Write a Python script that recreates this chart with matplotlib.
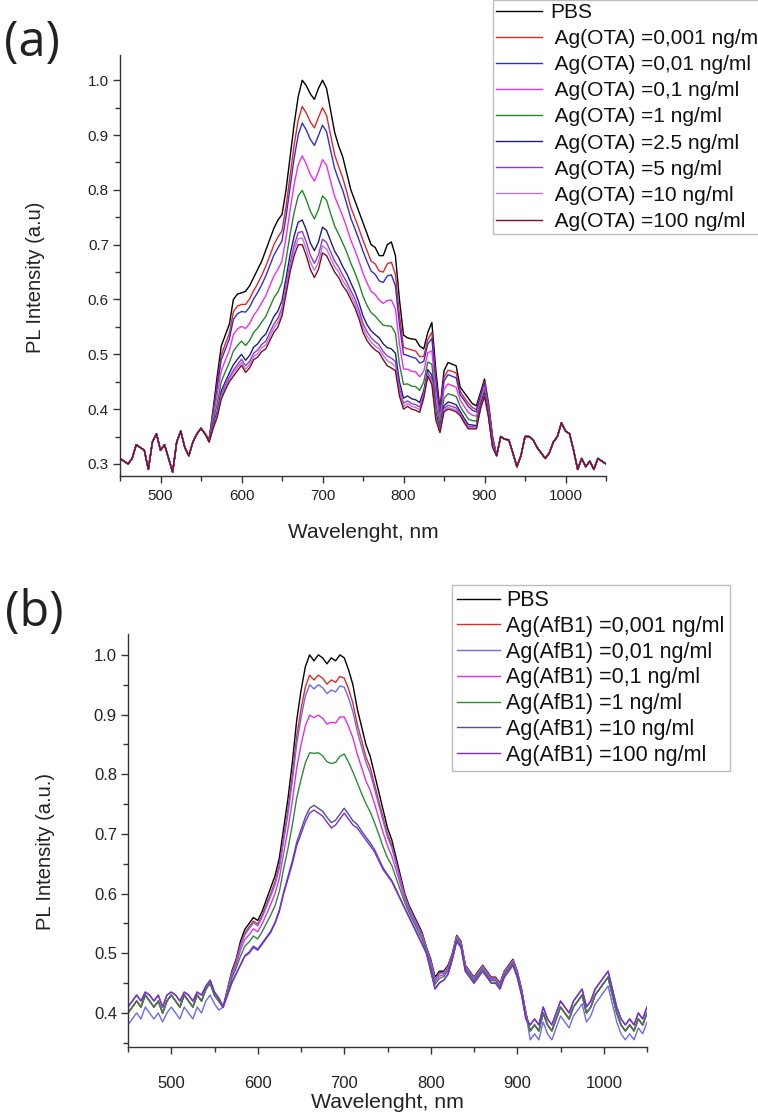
import numpy as np
import matplotlib
matplotlib.use("Agg")
import matplotlib.pyplot as plt
from matplotlib.ticker import MultipleLocator, FormatStrFormatter

plt.rcParams['font.family'] = ['Liberation Sans', 'DejaVu Sans']

# ---------------- data ----------------
# wavelength grid (nm), 5 nm sampling
wavelength_nm = np.arange(450, 1051, 5)

# ----- panel (a): OTA -----
ota_left_tail = [.310, .305, .300, .310, .335, .330, .325, .290, .340, .355, .325,
                 .335, .310, .285, .340, .360, .330, .315, .340, .355, .365, .355]
ota_right_tail = [.315, .350, .345, .344, .320, .295, .315, .350, .350, .344, .330, .320,
                  .310, .320, .340, .350, .375, .360, .355, .325, .290, .310, .295, .305,
                  .290, .310, .305, .300]

ota_pbs_mid = [.345, .400, .460, .515, .535, .555, .600, .610, .612, .615,
               .625, .640, .655, .670, .690, .710, .730, .745, .755, .800,
               .860, .920, .970, 1.000, .990, .975, .965, .985, 1.000, .985,
               .945, .905, .880, .860, .830, .800, .780, .760, .740, .720,
               .700, .695, .680, .680, .700, .705, .680, .600, .535, .530,
               .528, .527, .515, .510, .540, .558, .470, .400, .470, .485,
               .482, .479, .440, .430, .420, .410, .406, .430, .455, .410,
               .350]
ota_0001_mid = [.344, .394, .448, .499, .519, .538, .578, .588, .591, .591,
                .601, .616, .629, .644, .661, .680, .700, .714, .725, .770,
                .826, .882, .927, .952, .940, .924, .913, .932, .950, .936,
                .900, .864, .842, .822, .796, .768, .749, .729, .708, .689,
                .670, .665, .652, .650, .665, .668, .646, .572, .513, .510,
                .508, .506, .496, .496, .527, .540, .456, .393, .458, .471,
                .469, .466, .432, .421, .411, .403, .399, .425, .450, .406,
                .347]
ota_001_mid = [.344, .391, .441, .490, .509, .528, .564, .574, .578, .577,
               .586, .601, .613, .627, .643, .662, .681, .694, .707, .751,
               .805, .858, .900, .922, .909, .892, .881, .899, .918, .906,
               .872, .839, .818, .799, .774, .748, .729, .709, .688, .669,
               .652, .646, .634, .631, .643, .645, .625, .554, .500, .498,
               .495, .493, .484, .487, .519, .529, .447, .389, .451, .463,
               .460, .457, .426, .416, .405, .398, .395, .422, .447, .404,
               .345]
ota_01_mid = [.343, .384, .426, .470, .489, .507, .536, .546, .551, .547,
              .556, .571, .581, .594, .607, .625, .643, .655, .670, .713,
              .763, .810, .846, .862, .847, .828, .816, .833, .855, .845,
              .816, .788, .770, .752, .731, .708, .690, .670, .648, .630,
              .615, .609, .599, .593, .598, .599, .583, .519, .473, .473,
              .469, .468, .459, .469, .503, .506, .429, .380, .436, .446,
              .443, .440, .416, .405, .394, .389, .387, .416, .441, .399,
              .341]
ota_1_mid = [.342, .377, .410, .450, .468, .485, .506, .516, .524, .516,
             .525, .540, .548, .559, .569, .586, .603, .614, .631, .673,
             .719, .759, .789, .799, .782, .761, .747, .764, .789, .781,
             .757, .734, .719, .703, .686, .666, .649, .629, .606, .589,
             .576, .570, .561, .553, .552, .551, .539, .482, .445, .446,
             .442, .441, .434, .450, .486, .482, .410, .371, .420, .428,
             .426, .423, .405, .393, .382, .379, .378, .410, .434, .393,
             .337]
ota_25_mid = [.341, .370, .396, .433, .450, .466, .481, .491, .500, .489,
              .498, .513, .519, .530, .537, .553, .569, .579, .598, .639,
              .682, .716, .741, .745, .727, .703, .689, .705, .732, .726,
              .707, .688, .676, .660, .647, .630, .614, .594, .570, .554,
              .543, .536, .530, .519, .512, .510, .502, .450, .420, .424,
              .419, .417, .412, .434, .472, .462, .394, .363, .406, .413,
              .411, .408, .396, .383, .372, .371, .370, .405, .429, .389,
              .333]
ota_5_mid = [.340, .368, .391, .426, .443, .458, .471, .481, .491, .479,
             .487, .502, .508, .518, .524, .540, .555, .566, .585, .625,
             .667, .699, .722, .724, .705, .681, .666, .681, .710, .704,
             .687, .670, .659, .644, .632, .616, .601, .581, .556, .541,
             .530, .523, .517, .505, .497, .493, .487, .438, .411, .415,
             .410, .408, .404, .427, .466, .454, .387, .360, .401, .407,
             .405, .402, .392, .379, .368, .368, .367, .402, .426, .387,
             .332]
ota_10_mid = [.340, .366, .388, .422, .439, .454, .466, .476, .485, .473,
              .481, .496, .501, .512, .517, .532, .548, .558, .577, .618,
              .658, .690, .711, .712, .692, .668, .653, .668, .698, .692,
              .676, .660, .650, .634, .624, .608, .593, .573, .548, .533,
              .522, .515, .510, .498, .488, .484, .478, .431, .405, .410,
              .405, .403, .399, .424, .463, .450, .384, .359, .398, .403,
              .401, .398, .390, .377, .366, .366, .366, .401, .425, .386,
              .331]
ota_100_mid = [.340, .365, .385, .418, .435, .450, .460, .470, .480, .467,
               .475, .490, .495, .505, .510, .525, .540, .550, .570, .610,
               .650, .680, .700, .700, .680, .655, .640, .655, .685, .680,
               .665, .650, .640, .625, .615, .600, .585, .565, .540, .525,
               .515, .508, .503, .490, .479, .475, .470, .424, .400, .405,
               .400, .398, .394, .420, .460, .445, .380, .357, .395, .400,
               .398, .395, .388, .375, .364, .364, .364, .400, .424, .385,
               .330]

ota_labels = ['PBS', ' Ag(OTA) =0,001 ng/ml', ' Ag(OTA) =0,01 ng/ml',
              ' Ag(OTA) =0,1 ng/ml', ' Ag(OTA) =1 ng/ml', ' Ag(OTA) =2.5 ng/ml',
              ' Ag(OTA) =5 ng/ml', ' Ag(OTA) =10 ng/ml', ' Ag(OTA) =100 ng/ml']
ota_colors = ['#000000', '#e3262c', '#2f2fd2', '#f22cf2', '#22882a', '#1c1c86',
              '#9235e0', '#b57ad0', '#7c0c22']

# ----- panel (b): AfB1 -----
afb_left_tail = [.40, .41, .42, .41, .43, .42, .41, .42, .40, .42, .43,
                 .42, .41, .43, .42, .41, .43, .42, .44, .45, .43, .42]
afb_left_tail_low = [.38, .39, .40, .39, .41, .40, .39, .40, .385, .40, .41,
                     .40, .39, .41, .40, .39, .41, .40, .42, .43, .415, .405]
afb_left_tail_high = [.41, .42, .43, .42, .435, .43, .42, .43, .41, .43, .435,
                      .43, .42, .435, .43, .42, .435, .43, .445, .455, .435, .425]
afb_right_tail = [.37, .38, .37, .40, .38, .37, .39, .41, .40, .39, .41, .42, .43, .40,
                  .41, .43, .44, .45, .46, .43, .40, .38, .37, .38, .37, .39, .38, .40]
afb_right_tail_low = [.355, .365, .355, .385, .365, .355, .375, .395, .385, .375, .395,
                      .405, .415, .385, .395, .415, .425, .435, .445, .415, .385, .365,
                      .355, .365, .355, .375, .365, .385]
afb_right_tail_high = [.38, .39, .38, .41, .39, .38, .40, .42, .41, .40, .42, .43, .44, .41,
                       .42, .44, .45, .46, .47, .44, .41, .39, .38, .39, .38, .40, .39, .41]

afb_pbs_mid = [.41, .44, .47, .49, .52, .54, .55, .56, .555, .57,
               .59, .61, .63, .66, .71, .76, .82, .89, .94, .98,
               1.0, .99, 1.0, .995, .985, .995, .99, 1.0, .995, .975,
               .95, .91, .88, .85, .83, .80, .77, .74, .71, .69,
               .66, .63, .60, .58, .565, .55, .535, .51, .49, .46,
               .47, .47, .48, .50, .53, .52, .48, .47, .46, .47,
               .48, .47, .46, .46, .45, .47, .48, .49, .47, .44,
               .40]
afb_0001_mid = [.41, .439, .467, .487, .515, .534, .544, .554, .549, .563,
                .582, .600, .620, .648, .696, .742, .798, .863, .909, .946,
                .966, .958, .966, .961, .951, .958, .954, .964, .961, .943,
                .919, .884, .857, .829, .811, .783, .755, .727, .700, .681,
                .653, .625, .597, .577, .562, .547, .532, .509, .487, .457,
                .467, .468, .478, .499, .529, .519, .479, .469, .459, .469,
                .479, .469, .459, .459, .449, .469, .479, .489, .469, .439,
                .399]
afb_001_mid = [.41, .438, .466, .485, .512, .531, .541, .551, .546, .560,
               .578, .596, .615, .643, .689, .734, .788, .850, .894, .931,
               .950, .943, .950, .945, .935, .941, .938, .948, .946, .928,
               .905, .872, .846, .820, .802, .775, .748, .721, .695, .677,
               .650, .622, .595, .576, .561, .546, .531, .508, .486, .456,
               .466, .467, .477, .498, .528, .518, .478, .468, .458, .468,
               .478, .468, .458, .458, .448, .468, .478, .488, .468, .438,
               .398]
afb_01_mid = [.41, .436, .462, .481, .505, .523, .531, .541, .536, .549,
              .565, .582, .600, .626, .668, .709, .755, .810, .849, .881,
              .899, .895, .899, .894, .884, .887, .886, .896, .896, .880,
              .861, .834, .812, .789, .773, .751, .726, .702, .680, .663,
              .639, .615, .591, .572, .557, .542, .527, .506, .482, .452,
              .462, .464, .474, .496, .526, .516, .476, .466, .456, .466,
              .476, .466, .456, .456, .446, .466, .476, .486, .466, .436,
              .396]
afb_1_mid = [.41, .434, .458, .475, .495, .512, .519, .529, .524, .536,
             .550, .564, .580, .604, .642, .676, .715, .760, .791, .819,
             .836, .835, .836, .831, .821, .818, .820, .830, .834, .820,
             .804, .786, .768, .751, .737, .719, .699, .678, .660, .647,
             .626, .605, .585, .568, .553, .538, .523, .504, .478, .448,
             .458, .461, .471, .494, .524, .514, .474, .464, .454, .464,
             .474, .464, .454, .454, .444, .464, .474, .484, .464, .434,
             .394]
afb_10_mid = [.41, .430, .451, .466, .481, .496, .502, .512, .507, .517,
              .527, .537, .552, .573, .603, .629, .655, .686, .707, .728,
              .743, .748, .743, .738, .728, .719, .723, .733, .743, .733,
              .722, .716, .705, .695, .685, .674, .658, .643, .632, .622,
              .607, .591, .576, .561, .546, .531, .516, .500, .471, .441,
              .451, .455, .465, .490, .520, .510, .470, .460, .450, .460,
              .470, .460, .450, .450, .440, .460, .470, .480, .460, .430,
              .390]
afb_100_mid = [.41, .43, .45, .465, .48, .495, .50, .51, .505, .515,
               .525, .535, .55, .57, .60, .625, .65, .68, .70, .72,
               .735, .74, .735, .73, .72, .71, .715, .725, .735, .725,
               .715, .71, .70, .69, .68, .67, .655, .64, .63, .62,
               .605, .59, .575, .56, .545, .53, .515, .50, .47, .44,
               .45, .455, .465, .49, .52, .51, .47, .46, .45, .46,
               .47, .46, .45, .45, .44, .46, .47, .48, .46, .43,
               .39]

afb_labels = ['PBS', 'Ag(AfB1) =0,001 ng/ml', 'Ag(AfB1) =0,01 ng/ml',
              'Ag(AfB1) =0,1 ng/ml', 'Ag(AfB1) =1 ng/ml', 'Ag(AfB1) =10 ng/ml',
              'Ag(AfB1) =100 ng/ml']
afb_colors = ['#000000', '#e02a2a', '#6a6af2', '#e22fe2', '#2b8c3a', '#4f4f98', '#7a2ce0']

# assemble full spectra
ota_series = [
    ota_left_tail + ota_pbs_mid + ota_right_tail,
    ota_left_tail + ota_0001_mid + ota_right_tail,
    ota_left_tail + ota_001_mid + ota_right_tail,
    ota_left_tail + ota_01_mid + ota_right_tail,
    ota_left_tail + ota_1_mid + ota_right_tail,
    ota_left_tail + ota_25_mid + ota_right_tail,
    ota_left_tail + ota_5_mid + ota_right_tail,
    ota_left_tail + ota_10_mid + ota_right_tail,
    ota_left_tail + ota_100_mid + ota_right_tail,
]
afb_series = [
    afb_left_tail + afb_pbs_mid + afb_right_tail,
    afb_left_tail + afb_0001_mid + afb_right_tail,
    afb_left_tail_low + afb_001_mid + afb_right_tail_low,
    afb_left_tail + afb_01_mid + afb_right_tail,
    afb_left_tail + afb_1_mid + afb_right_tail,
    afb_left_tail_high + afb_10_mid + afb_right_tail_high,
    afb_left_tail_high + afb_100_mid + afb_right_tail_high,
]

# ---------------- figure ----------------
W, H = 758, 1114
fig = plt.figure(figsize=(W / 100, H / 100), dpi=100)


def px_axes(left, top, right, bottom):
    return [left / W, 1 - bottom / H, (right - left) / W, (bottom - top) / H]


def style(ax, ylim, tick_fs, xpad):
    ax.set_xlim(450, 1050)
    ax.set_ylim(*ylim)
    for s in ('top', 'right'):
        ax.spines[s].set_visible(False)
    for s in ('left', 'bottom'):
        ax.spines[s].set_color('#333333')
        ax.spines[s].set_linewidth(1.0)
    ax.xaxis.set_major_locator(MultipleLocator(100))
    ax.xaxis.set_minor_locator(MultipleLocator(50))
    ax.yaxis.set_major_locator(MultipleLocator(0.1))
    ax.yaxis.set_minor_locator(MultipleLocator(0.05))
    ax.yaxis.set_major_formatter(FormatStrFormatter('%.1f'))
    ax.tick_params(which='major', direction='out', length=5, width=1.0,
                   color='#333333', labelcolor='#222222', labelsize=tick_fs)
    ax.tick_params(which='minor', direction='out', length=3.5, width=1.0,
                   color='#333333')
    ax.tick_params(axis='x', which='major', pad=xpad)
    ax.tick_params(axis='y', which='major', pad=3)


# panel (a)
axA = fig.add_axes(px_axes(120, 55, 606, 476))
style(axA, (0.278, 1.046), 11, 4.3)
for y, c, lab in zip(ota_series, ota_colors, ota_labels):
    axA.plot(wavelength_nm, y, color=c, lw=1.0, label=lab)
axA.set_xlabel('Wavelenght, nm', fontsize=15, color='#222222', va='center')
axA.xaxis.set_label_coords(0.5, -(532 - 476) / 421)
axA.set_ylabel('PL Intensity (a.u)', fontsize=14.5, color='#222222', va='center')
axA.yaxis.set_label_coords(-(120 - 35) / 486, (476 - 277) / 421)
legA = axA.legend(loc='upper left', bbox_to_anchor=(493 / W, 1 - 0 / H),
                  bbox_transform=fig.transFigure, fontsize=15, frameon=True,
                  fancybox=False, edgecolor='#bdbdbd', framealpha=1,
                  borderpad=0.15, labelspacing=0.34, handlelength=2.2,
                  handletextpad=0.4, borderaxespad=0)
legA.get_frame().set_linewidth(1.0)
for t in legA.get_texts():
    t.set_color('#111111')

# panel (b)
axB = fig.add_axes(px_axes(128, 634, 647, 1047))
style(axB, (0.343, 1.035), 12, 16)
for y, c, lab in zip(afb_series, afb_colors, afb_labels):
    axB.plot(wavelength_nm, y, color=c, lw=1.0, label=lab)
axB.set_xlabel('Wavelenght, nm', fontsize=15.3, color='#222222', va='center')
axB.xaxis.set_label_coords(0.5, -(1103 - 1047) / 413)
axB.set_ylabel('PL Intensity (a.u.)', fontsize=14.5, color='#222222', va='center')
axB.yaxis.set_label_coords(-(128 - 46) / 519, (1047 - 851) / 413)
legB = axB.legend(loc='upper left', bbox_to_anchor=(452 / W, 1 - 585 / H),
                  bbox_transform=fig.transFigure, fontsize=15.5, frameon=True,
                  fancybox=False, edgecolor='#bdbdbd', framealpha=1,
                  borderpad=0.24, labelspacing=0.22, handlelength=2.0,
                  handletextpad=0.28, borderaxespad=0)
legB.get_frame().set_linewidth(1.0)
for t in legB.get_texts():
    t.set_color('#111111')

# panel letters
fig.text(4 / W, 1 - 18 / H, '(a)', fontsize=35, family='Open Sans',
         va='top', ha='left', color='#222222')
fig.text(5 / W, 1 - 589 / H, '(b)', fontsize=35, family='Open Sans',
         va='top', ha='left', color='#222222')

fig.savefig('out.png', dpi=100)
